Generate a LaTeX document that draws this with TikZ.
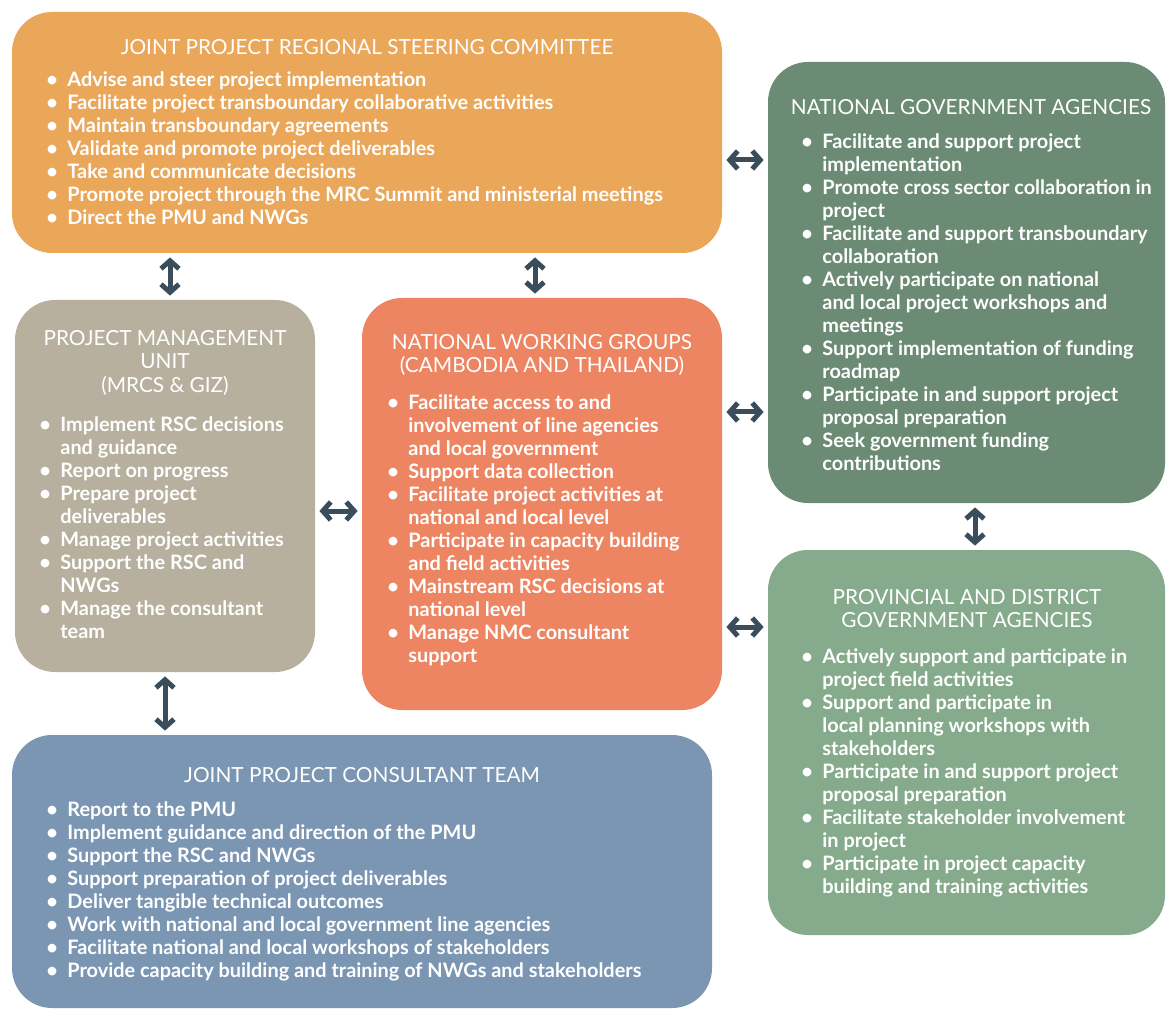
\documentclass[tikz,border=0pt]{standalone}
\usepackage{fontspec}
\setmainfont{Lato}
\usetikzlibrary{arrows.meta}
\definecolor{rscorange}{RGB}{234,167,90}
\definecolor{ngagreen}{RGB}{107,139,116}
\definecolor{pmutan}{RGB}{183,176,158}
\definecolor{nwgred}{RGB}{238,133,98}
\definecolor{pdgagreen}{RGB}{134,171,140}
\definecolor{ctblue}{RGB}{123,150,178}
\definecolor{linkgray}{RGB}{58,77,90}
\newenvironment{points}{\begin{tabular}{@{}p{10.5pt}@{}l@{}}}{\end{tabular}}
\tikzset{
    box/.style={rounded corners=20pt, inner sep=0pt},
    title/.style={anchor=north, align=center, text=white, inner sep=0pt, font=\fontsize{10.4}{11.75}\selectfont},
    list/.style={anchor=north west, text=white, inner sep=0pt, font=\fontsize{9.95}{11.5}\selectfont\bfseries},
    link/.style={draw=linkgray, line width=2.5pt,
        {Straight Barb[length=4pt,width=9pt]}-{Straight Barb[length=4pt,width=9pt]},
        shorten <=2pt, shorten >=2pt}
}

\begin{document}
\begin{tikzpicture}[x=0.5pt, y=-0.5pt]
    \useasboundingbox[fill=white] (0,0) rectangle (1167,1010);

    \node[box, fill=rscorange, minimum width=355pt, minimum height=120.5pt] (rsc) at (367,132.5) {};
    \node[box, fill=ngagreen, minimum width=198.5pt, minimum height=220.5pt] (nga) at (966.5,282.5) {};
    \node[box, fill=pmutan, minimum width=150pt, minimum height=186pt] (pmu) at (165,486) {};
    \node[box, fill=nwgred, minimum width=180pt, minimum height=206pt] (nwg) at (542,504) {};
    \node[box, fill=pdgagreen, minimum width=198.5pt, minimum height=192.5pt] (pdga) at (966.5,742.5) {};
    \node[box, fill=ctblue, minimum width=350pt, minimum height=136.5pt] (ct) at (362,871.5) {};

    \node[title] (rsc title) at (367,39) {JOINT PROJECT REGIONAL STEERING COMMITTEE};
    \node[list] (rsc list) at (46,70) {\begin{points}
        \textbullet & Advise and steer project implementation\\
        \textbullet & Facilitate project transboundary collaborative activities\\
        \textbullet & Maintain transboundary agreements\\
        \textbullet & Validate and promote project deliverables\\
        \textbullet & Take and communicate decisions\\
        \textbullet & Promote project through the MRC Summit and ministerial meetings\\
        \textbullet & Direct the PMU and NWGs
    \end{points}};

    \node[title] (nga title) at (971,99) {NATIONAL GOVERNMENT AGENCIES};
    \node[list] (nga list) at (801,132) {\begin{points}
        \textbullet & Facilitate and support project\\
                    & implementation\\
        \textbullet & Promote cross sector collaboration in\\
                    & project\\
        \textbullet & Facilitate and support transboundary\\
                    & collaboration\\
        \textbullet & Actively participate on national\\
                    & and local project workshops and\\
                    & meetings\\
        \textbullet & Support implementation of funding\\
                    & roadmap\\
        \textbullet & Participate in and support project\\
                    & proposal preparation\\
        \textbullet & Seek government funding\\
                    & contributions
    \end{points}};

    \node[title] (pmu title) at (165,330) {PROJECT MANAGEMENT\\UNIT\\(MRCS \& GIZ)};
    \node[list] (pmu list) at (39,415) {\begin{points}
        \textbullet & Implement RSC decisions\\
                    & and guidance\\
        \textbullet & Report on progress\\
        \textbullet & Prepare project\\
                    & deliverables\\
        \textbullet & Manage project activities\\
        \textbullet & Support the RSC and\\
                    & NWGs\\
        \textbullet & Manage the consultant\\
                    & team
    \end{points}};

    \node[title] (nwg title) at (542,334) {NATIONAL WORKING GROUPS\\(CAMBODIA AND THAILAND)};
    \node[list] (nwg list) at (387,393) {\begin{points}
        \textbullet & Facilitate access to and\\
                    & involvement of line agencies\\
                    & and local government\\
        \textbullet & Support data collection\\
        \textbullet & Facilitate project activities at\\
                    & national and local level\\
        \textbullet & Participate in capacity building\\
                    & and field activities\\
        \textbullet & Mainstream RSC decisions at\\
                    & national level\\
        \textbullet & Manage NMC consultant\\
                    & support
    \end{points}};

    \node[title] (pdga title) at (967,589) {PROVINCIAL AND DISTRICT\\GOVERNMENT AGENCIES};
    \node[list] (pdga list) at (801,647) {\begin{points}
        \textbullet & Actively support and participate in\\
                    & project field activities\\
        \textbullet & Support and participate in\\
                    & local planning workshops with\\
                    & stakeholders\\
        \textbullet & Participate in and support project\\
                    & proposal preparation\\
        \textbullet & Facilitate stakeholder involvement\\
                    & in project\\
        \textbullet & Participate in project capacity\\
                    & building and training activities
    \end{points}};

    \node[title] (ct title) at (362,767) {JOINT PROJECT CONSULTANT TEAM};
    \node[list] (ct list) at (46,800) {\begin{points}
        \textbullet & Report to the PMU\\
        \textbullet & Implement guidance and direction of the PMU\\
        \textbullet & Support the RSC and NWGs\\
        \textbullet & Support preparation of project deliverables\\
        \textbullet & Deliver tangible technical outcomes\\
        \textbullet & Work with national and local government line agencies\\
        \textbullet & Facilitate national and local workshops of stakeholders\\
        \textbullet & Provide capacity building and training of NWGs and stakeholders
    \end{points}};

    \draw[link] (rsc.east |- 0,160) -- (nga.west |- 0,160);
    \draw[link] (rsc.south -| 170,0) -- (pmu.north -| 170,0);
    \draw[link] (rsc.south -| 535,0) -- (nwg.north -| 535,0);
    \draw[link] (nwg.east |- 0,412) -- (nga.west |- 0,412);
    \draw[link] (pmu.east |- 0,511) -- (nwg.west |- 0,511);
    \draw[link] (nga.south -| 975,0) -- (pdga.north -| 975,0);
    \draw[link] (nwg.east |- 0,627) -- (pdga.west |- 0,627);
    \draw[link] (pmu.south -| 165,0) -- (ct.north -| 165,0);
\end{tikzpicture}
\end{document}
